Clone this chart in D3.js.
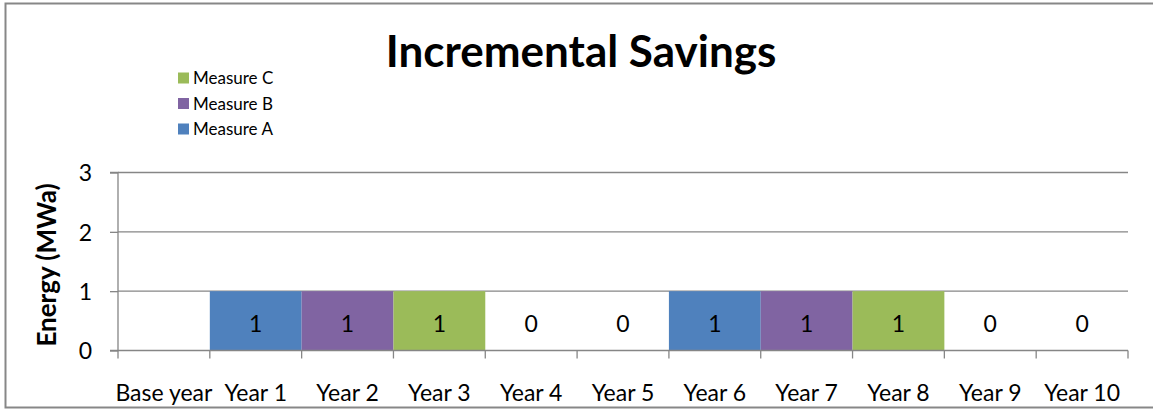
<!DOCTYPE html>
<html><head><meta charset="utf-8">
<script src="https://cdn.jsdelivr.net/npm/d3@7"></script>
<style>
html,body{margin:0;padding:0;background:#fff;}
svg text{font-family:Lato, "Open Sans", sans-serif;fill:#000;}
</style></head>
<body><svg id="c" width="1153" height="410"></svg>
<script>
const categories = ["Base year","Year 1","Year 2","Year 3","Year 4","Year 5","Year 6","Year 7","Year 8","Year 9","Year 10"];
const measureA = [null,1,0,0,0,0,1,0,0,0,0];
const measureB = [null,0,1,0,0,0,0,1,0,0,0];
const measureC = [null,0,0,1,0,0,0,0,1,0,0];
const seriesNames = ["Measure A","Measure B","Measure C"];
const seriesColors = ["#4F81BD","#8064A2","#9BBB59"];
const yTicks = [0,1,2,3];
const titleText = "Incremental Savings";
const yTitle = "Energy (MWa)";

(function(){
const svg = d3.select("#c");
svg.append("rect").attr("x",0).attr("y",0).attr("width",1153).attr("height",410).attr("fill","#fff");
svg.append("rect").attr("x",5.5).attr("y",3.5).attr("width",1160).attr("height",404)
  .attr("fill","none").attr("stroke","#878787").attr("stroke-width",2);

const pl=118, pr=1128, pt=172.5, pb=350.5;
const x = d3.scaleBand().domain(categories).range([pl,pr]).padding(0);
const y = d3.scaleLinear().domain([0,3]).range([pb,pt]);
const gridColor="#868686";
const fs = "23px";

svg.append("g").selectAll("line").data(yTicks.filter(d=>d>0)).join("line")
  .attr("x1",pl).attr("x2",pr).attr("y1",d=>y(d)).attr("y2",d=>y(d))
  .attr("stroke",gridColor).attr("stroke-width",1.3);

const rows = categories.map((c,i)=>({cat:c,"Measure A":measureA[i]||0,"Measure B":measureB[i]||0,"Measure C":measureC[i]||0}));
const stack = d3.stack().keys(seriesNames)(rows);
stack.forEach((s,si)=>{
  svg.append("g").selectAll("rect").data(s).join("rect")
    .attr("x",d=>x(d.data.cat)).attr("width",x.bandwidth())
    .attr("y",d=>y(d[1])).attr("height",d=>y(d[0])-y(d[1]))
    .attr("fill",seriesColors[si]);
});

const yAxis = d3.axisLeft(y).tickValues(yTicks).tickSize(8).tickPadding(18).tickFormat(d3.format("d"));
const gy = svg.append("g").attr("transform",`translate(${pl},0)`).call(yAxis);
gy.select(".domain").attr("stroke",gridColor).attr("stroke-width",1.3).attr("d",`M-8,${pt}H0V${pb}H-8`);
gy.selectAll(".tick line").attr("stroke",gridColor).attr("stroke-width",1.3);
gy.selectAll("text").style("font-size",fs).attr("fill","#000").style("font-family","Lato, sans-serif").attr("dy","0.36em");

const xAxis = d3.axisBottom(x).tickSize(0).tickPadding(0);
const gx = svg.append("g").attr("transform",`translate(0,${pb})`).call(xAxis);
gx.select(".domain").attr("stroke",gridColor).attr("stroke-width",1.3).attr("d",`M${pl},0H${pr}`);
gx.selectAll("text").style("font-size",fs).attr("fill","#000").style("font-family","Lato, sans-serif")
  .attr("y",50.5).attr("dy",0);
const bounds = categories.map(c=>x(c)).concat([pr]);
gx.append("g").selectAll("line").data(bounds).join("line")
  .attr("x1",d=>d).attr("x2",d=>d).attr("y1",0).attr("y2",8)
  .attr("stroke",gridColor).attr("stroke-width",1.3);

const labelRows = rows.filter((r,i)=>measureA[i]!==null);
svg.append("g").selectAll("text").data(labelRows).join("text")
  .attr("x",d=>x(d.cat)+x.bandwidth()/2)
  .attr("y",d=>y(Math.max(d["Measure A"]+d["Measure B"]+d["Measure C"],1)/2)+11)
  .attr("text-anchor","middle").style("font-size",fs)
  .text(d=>d["Measure A"]+d["Measure B"]+d["Measure C"]);

svg.append("text").attr("x",581).attr("y",67).attr("text-anchor","middle")
  .style("font-size","44px").style("font-weight","bold").text(titleText);

svg.append("text").attr("transform","translate(47,265) rotate(-90)").attr("text-anchor","middle")
  .attr("dy","0.35em").style("font-size","26px").style("font-weight","bold").text(yTitle);

const legendItems = seriesNames.map((n,i)=>({n,c:seriesColors[i]})).reverse();
const lg = svg.append("g").selectAll("g").data(legendItems).join("g")
  .attr("transform",(d,i)=>`translate(178,${78+i*25.5})`);
lg.append("rect").attr("x",0).attr("y",-5.5).attr("width",11).attr("height",11).attr("fill",d=>d.c);
lg.append("text").attr("x",15).attr("y",0).attr("dy","0.36em").style("font-size","17px").text(d=>d.n);
})();
</script></body></html>
